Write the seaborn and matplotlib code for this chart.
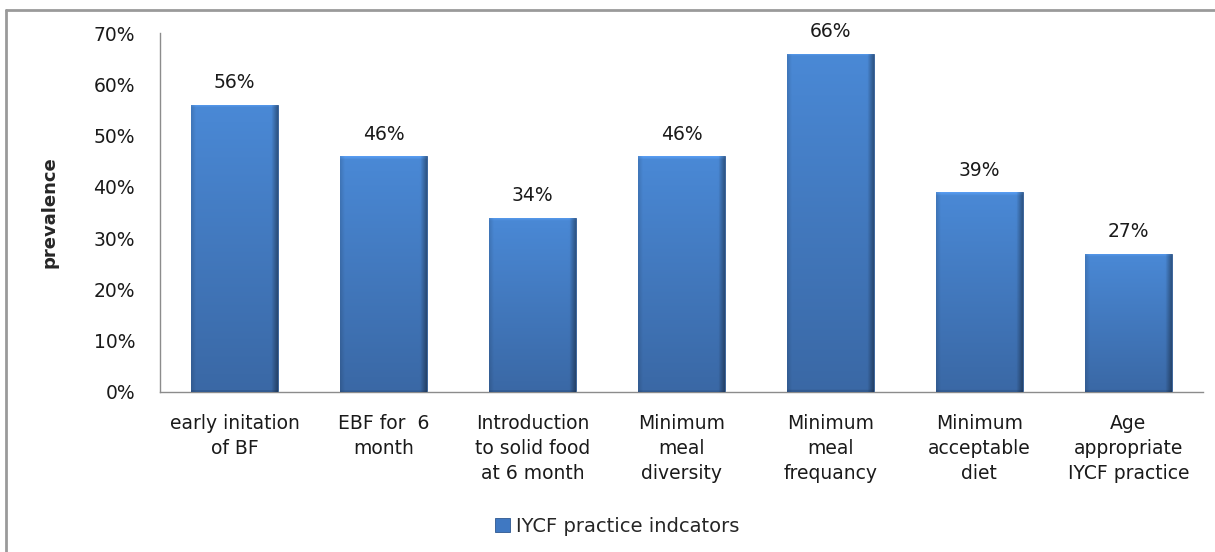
import numpy as np
import pandas as pd
import matplotlib
matplotlib.use("Agg")
import matplotlib.pyplot as plt
from matplotlib.patches import Patch
from matplotlib.lines import Line2D
from matplotlib.ticker import PercentFormatter
import seaborn as sns

# IYCF practice indicators and their prevalence (%)
categories = [
    "early initation\nof BF",
    "EBF for  6\nmonth",
    "Introduction\nto solid food\nat 6 month",
    "Minimum\nmeal\ndiversity",
    "Minimum\nmeal\nfrequancy",
    "Minimum\nacceptable\ndiet",
    "Age\nappropriate\nIYCF practice",
]
prevalence = [56, 46, 34, 46, 66, 39, 27]
series_name = "IYCF practice indcators"
y_ticks = [0, 10, 20, 30, 40, 50, 60, 70]

df = pd.DataFrame({"indicator": categories, "prevalence": prevalence})

sns.set_theme(style="white")
plt.rcParams["font.family"] = ["DejaVu Sans"]

fig = plt.figure(figsize=(12.15, 5.52), dpi=100)
ax = fig.add_axes([0.1317, 0.290, 0.8583, 0.650])

base_blue = "#4580CC"
sns.barplot(data=df, x="indicator", y="prevalence", color=base_blue,
            width=0.58, saturation=1, ax=ax, zorder=2)

# Bevelled gradient fill for each bar
top_rgb = np.array([0x4A, 0x89, 0xD6]) / 255
bot_rgb = np.array([0x3A, 0x68, 0xA5]) / 255
ny, nx = 300, 60
t = np.linspace(0, 1, ny)[:, None]
grad = top_rgb[None, None, :] * (1 - t[..., None]) + bot_rgb[None, None, :] * t[..., None]
grad = np.repeat(grad, nx, axis=1)
u = np.linspace(0, 1, nx)[None, :]
shade = np.ones((1, nx))
shade -= 0.35 * np.clip((u - 0.93) / 0.07, 0, 1)
shade -= 0.12 * np.clip((0.05 - u) / 0.05, 0, 1)
grad = grad * shade[..., None]

for patch in ax.patches:
    x0, y0 = patch.get_x(), patch.get_y()
    w, h = patch.get_width(), patch.get_height()
    img = grad.copy()
    # soft bevel along the top edge, about 4 px tall
    band = max(3, int(ny * 0.8 / h))
    fade = np.linspace(1, 0, band)[:, None, None]
    img[:band] = np.clip(img[:band] * (1 + 0.10 * fade) + 0.03 * fade, 0, 1)
    img[-max(2, band // 2):] *= 0.88
    im = ax.imshow(img, extent=[x0, x0 + w, y0, y0 + h], origin="upper",
                   aspect="auto", zorder=3, interpolation="bilinear")
    im.set_clip_path(patch)
    patch.set_edgecolor("#2E578F")
    patch.set_linewidth(0.6)

# value labels above the bars
for patch, val in zip(ax.patches, prevalence):
    ax.annotate(f"{val:.0f}%", (patch.get_x() + patch.get_width() / 2, val),
                xytext=(0, 9), textcoords="offset points", ha="center",
                va="bottom", fontsize=13.5, color="#1a1a1a", zorder=5)

ax.set_xlim(-0.5, len(categories) - 0.5)
ax.set_ylim(0, 70)
ax.set_yticks(y_ticks)
ax.yaxis.set_major_formatter(PercentFormatter(decimals=0))
ax.tick_params(axis="y", length=0, pad=18, labelsize=13.5, labelcolor="#1a1a1a")
ax.tick_params(axis="x", length=0, pad=16, labelsize=13.5, labelcolor="#1a1a1a")
for lbl in ax.get_xticklabels():
    lbl.set_linespacing(1.4)

ax.set_xlabel("")
ax.set_ylabel("prevalence", fontsize=13, fontweight="bold",
              family=["Liberation Sans Narrow", "DejaVu Sans"])
ax.yaxis.set_label_coords(-0.0975, 0.5)

for side in ["top", "right"]:
    ax.spines[side].set_visible(False)
for side in ["left", "bottom"]:
    ax.spines[side].set_color("#8c8c8c")
    ax.spines[side].set_linewidth(1.0)
ax.grid(False)

handle = Patch(facecolor="#3F78C2", edgecolor="#2E578F", linewidth=0.6)
fig.legend([handle], [series_name], loc="center", bbox_to_anchor=(0.508, 0.046),
           frameon=False, fontsize=14, handlelength=0.75, handleheight=0.75,
           handletextpad=0.3)

# outer chart frame (top and left edges)
fig.add_artist(Line2D([0.005, 1.0], [0.982, 0.982], transform=fig.transFigure,
                      color="#9a9a9a", linewidth=2.0))
fig.add_artist(Line2D([0.005, 0.005], [0.0, 0.982], transform=fig.transFigure,
                      color="#9a9a9a", linewidth=2.0))

fig.savefig("out.png", dpi=100)
